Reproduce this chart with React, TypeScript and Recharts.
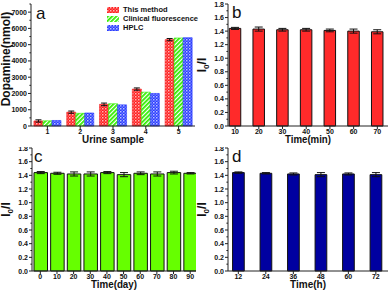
import React from "react";
import {
  Bar,
  BarChart,
  ErrorBar,
  Legend,
  ReferenceArea,
  XAxis,
  YAxis,
} from "recharts";

// panel a: dopamine in urine samples
const samples = ["1", "2", "3", "4", "5"];
const thisMethod = [310, 850, 1330, 2270, 5310];
const thisMethodErr = [70, 70, 80, 70, 70];
const clinical = [320, 780, 1370, 2080, 5410];
const hplc = [340, 800, 1300, 2000, 5430];
const dopamineTicks = [0, 1000, 2000, 3000, 4000, 5000, 6000, 7000];
const dopamineMinor = [0, 500, 1000, 1500, 2000, 2500, 3000, 3500, 4000, 4500, 5000, 5500, 6000, 6500, 7000, 7500];
const seriesNames = ["This method", "Clinical fluorescence", "HPLC"];

// panel b: stability over minutes
const timeMin = [10, 20, 30, 40, 50, 60, 70];
const ratioMin = [1.44, 1.43, 1.42, 1.42, 1.41, 1.4, 1.39];
const errMin = [0.015, 0.03, 0.02, 0.02, 0.02, 0.03, 0.03];

// panel c: stability over days
const timeDay = [0, 10, 20, 30, 40, 50, 60, 70, 80, 90];
const ratioDay = [1.44, 1.43, 1.42, 1.42, 1.44, 1.41, 1.43, 1.42, 1.44, 1.43];
const errDay = [0.015, 0.015, 0.03, 0.03, 0.015, 0.03, 0.02, 0.03, 0.02, 0.01];

// panel d: stability over hours
const timeHour = [12, 24, 36, 48, 60, 72];
const ratioHour = [1.44, 1.43, 1.42, 1.41, 1.42, 1.41];
const errHour = [0.01, 0.01, 0.015, 0.03, 0.015, 0.03];

const ratioTicks = [0, 0.2, 0.4, 0.6, 0.8, 1.0, 1.2, 1.4, 1.6, 1.8];
const ratioMinor = [0, 0.1, 0.2, 0.3, 0.4, 0.5, 0.6, 0.7, 0.8, 0.9, 1.0, 1.1, 1.2, 1.3, 1.4, 1.5, 1.6, 1.7, 1.8];

const font = "'Liberation Sans', Arial, sans-serif";
const axisColor = "#222";
const tickStyle = { fontSize: 7, fontWeight: "bold", fill: "#111", fontFamily: font };
const patternFills = ["url(#pRed)", "url(#pGreen)", "url(#pBlue)"];

const rowsA = samples.map((sample, i) => ({
  sample,
  method: thisMethod[i],
  methodErr: thisMethodErr[i],
  clinical: clinical[i],
  hplc: hplc[i],
}));
const rowsB = timeMin.map((time, i) => ({ time, ratio: ratioMin[i], err: errMin[i] }));
const rowsC = timeDay.map((time, i) => ({ time, ratio: ratioDay[i], err: errDay[i] }));
const rowsD = timeHour.map((time, i) => ({ time, ratio: ratioHour[i], err: errHour[i] }));

// y tick with major/minor marks; x is the label anchor, axis sits 4px to the right
function YTick({ x, y, payload, major, fmt }: any) {
  const axisX = x + 4;
  const isMajor = major.includes(payload.value);
  return (
    <g>
      <line x1={axisX} x2={axisX - (isMajor ? 3 : 1.6)} y1={y} y2={y} stroke={axisColor} strokeWidth={1} />
      {isMajor && (
        <text x={x} y={y} dy="0.36em" textAnchor="end" {...tickStyle}>
          {fmt ? fmt(payload.value) : payload.value}
        </text>
      )}
    </g>
  );
}

function XTitle({ viewBox, text, length }: any) {
  const { x, y, width } = viewBox;
  return (
    <text
      x={x + width / 2}
      y={y + 17}
      textAnchor="middle"
      fontSize={11.5}
      fontWeight="bold"
      fontFamily={font}
      fill="#111"
      textLength={length}
      lengthAdjust="spacingAndGlyphs"
    >
      {text}
    </text>
  );
}

function YTitle({ viewBox, text }: any) {
  const { x, y, height } = viewBox;
  const cx = x + 10;
  const cy = y + height / 2 - 6;
  return (
    <text
      x={cx}
      y={cy}
      transform={`rotate(-90 ${cx} ${cy})`}
      textAnchor="middle"
      fontSize={12}
      fontWeight="bold"
      fontFamily={font}
      fill="#111"
    >
      {text}
    </text>
  );
}

function RatioTitle({ viewBox }: any) {
  const { x, y, height } = viewBox;
  const cx = x + 10;
  const cy = y + height / 2;
  return (
    <text
      x={cx}
      y={cy}
      transform={`rotate(-90 ${cx} ${cy})`}
      textAnchor="middle"
      fontSize={12}
      fontWeight="bold"
      fontFamily={font}
      fill="#111"
    >
      <tspan>I</tspan>
      <tspan dy={3} fontSize={8}>0</tspan>
      <tspan dy={-3}>/I</tspan>
    </text>
  );
}

function PanelLetter({ children, left, top }: any) {
  return (
    <span
      style={{
        position: "absolute",
        left,
        top,
        fontFamily: font,
        fontSize: 17,
        lineHeight: "17px",
        color: "#111",
      }}
    >
      {children}
    </span>
  );
}

function LegendA() {
  return (
    <div
      style={{
        fontFamily: font,
        fontWeight: "bold",
        fontSize: 7.5,
        lineHeight: "9px",
        color: "#111",
        whiteSpace: "nowrap",
      }}
    >
      {seriesNames.map((name, i) => (
        <div key={name} style={{ display: "flex", alignItems: "center", height: 9 }}>
          <svg width={12} height={6} style={{ marginRight: 4 }}>
            <rect width={12} height={6} fill={patternFills[i]} />
          </svg>
          <span>{name}</span>
        </div>
      ))}
    </div>
  );
}

function Patterns() {
  return (
    <svg width={0} height={0} style={{ position: "absolute" }}>
      <defs>
        <pattern id="pRed" width={3} height={3} patternUnits="userSpaceOnUse">
          <rect width={3} height={3} fill="#ff1c1c" />
          <rect width={1.5} height={1.5} fill="#ffb4b4" />
          <rect x={1.5} y={1.5} width={1.5} height={1.5} fill="#ff5a5a" />
        </pattern>
        <pattern
          id="pGreen"
          width={3}
          height={3}
          patternUnits="userSpaceOnUse"
          patternTransform="rotate(45)"
        >
          <rect width={3} height={3} fill="#ffffff" />
          <rect width={1.8} height={3} fill="#33ee00" />
        </pattern>
        <pattern id="pBlue" width={3} height={3} patternUnits="userSpaceOnUse">
          <rect width={3} height={3} fill="#2a3cff" />
          <rect width={1.5} height={1.5} fill="#b8c0ff" />
          <rect x={1.5} y={1.5} width={1.5} height={1.5} fill="#6a78ff" />
        </pattern>
      </defs>
    </svg>
  );
}

function RatioPanel({ rows, ticks, domain, barSize, fill, xTitle, titleLength, margin }: any) {
  return (
    <BarChart width={196} height={147} data={rows} margin={margin}>
      <XAxis
        dataKey="time"
        type="number"
        domain={domain}
        ticks={ticks}
        allowDataOverflow
        height={22}
        interval={0}
        tick={tickStyle}
        tickSize={3}
        tickMargin={0}
        axisLine={{ stroke: axisColor }}
        tickLine={{ stroke: axisColor }}
        label={(props: any) => <XTitle {...props} text={xTitle} length={titleLength} />}
      />
      <YAxis
        width={32}
        domain={[0, 1.8]}
        ticks={ratioMinor}
        interval={0}
        tick={<YTick major={ratioTicks} fmt={(v: number) => v.toFixed(1)} />}
        tickSize={3}
        tickMargin={1}
        axisLine={{ stroke: axisColor }}
        tickLine={false}
        label={(props: any) => <RatioTitle {...props} />}
      />
      <Bar dataKey="ratio" fill={fill} stroke="#111" strokeWidth={1} barSize={barSize} isAnimationActive={false}>
        <ErrorBar dataKey="err" width={4} stroke="#111" strokeWidth={1} />
      </Bar>
      <ReferenceArea fill="none" stroke={axisColor} strokeWidth={1} ifOverflow="visible" />
    </BarChart>
  );
}

export default function App() {
  return (
    <div style={{ position: "absolute", left: 0, top: 0, width: 392, height: 294, background: "#fff" }}>
      <Patterns />

      <div style={{ position: "absolute", left: 0, top: 0 }}>
        <BarChart
          width={196}
          height={147}
          data={rowsA}
          margin={{ top: 4, right: 1, bottom: 0, left: 0 }}
          barCategoryGap="9%"
          barGap={0}
        >
          <XAxis
            dataKey="sample"
            height={21}
            tick={tickStyle}
            tickSize={3}
            tickMargin={0}
            axisLine={{ stroke: axisColor }}
            tickLine={{ stroke: axisColor }}
            label={(props: any) => <XTitle {...props} text="Urine sample" length={62} />}
          />
          <YAxis
            width={31}
            domain={[0, 7500]}
            ticks={dopamineMinor}
            interval={0}
            tick={<YTick major={dopamineTicks} />}
            tickSize={3}
            tickMargin={1}
            axisLine={{ stroke: axisColor }}
            tickLine={false}
            label={(props: any) => <YTitle {...props} text="Dopamine(nmol)" />}
          />
          <Legend
            layout="vertical"
            align="center"
            verticalAlign="middle"
            content={<LegendA />}
            wrapperStyle={{ left: 107, top: 5, width: 100, height: 27 }}
          />
          <Bar dataKey="method" name={seriesNames[0]} fill={patternFills[0]} stroke="#f01010" strokeWidth={0.6} isAnimationActive={false}>
            <ErrorBar dataKey="methodErr" width={3} stroke="#111" strokeWidth={1} />
          </Bar>
          <Bar dataKey="clinical" name={seriesNames[1]} fill={patternFills[1]} stroke="#33ee00" strokeWidth={0.6} isAnimationActive={false} />
          <Bar dataKey="hplc" name={seriesNames[2]} fill={patternFills[2]} stroke="#2030ff" strokeWidth={0.6} isAnimationActive={false} />
          <ReferenceArea fill="none" stroke={axisColor} strokeWidth={1} ifOverflow="visible" />
        </BarChart>
        <PanelLetter left={36} top={5}>a</PanelLetter>
      </div>

      <div style={{ position: "absolute", left: 196, top: 0 }}>
        <RatioPanel
          rows={rowsB}
          ticks={timeMin}
          domain={[7, 74.5]}
          barSize={11.5}
          fill="#ff2a2a"
          xTitle="Time(min)"
          titleLength={46}
          margin={{ top: 4, right: 4, bottom: -1, left: 0 }}
        />
        <PanelLetter left={36} top={4}>b</PanelLetter>
      </div>

      <div style={{ position: "absolute", left: 0, top: 147 }}>
        <RatioPanel
          rows={rowsC}
          ticks={timeDay}
          domain={[-5, 93.5]}
          barSize={13.5}
          fill="#66ff00"
          xTitle="Time(day)"
          titleLength={46}
          margin={{ top: 1, right: 0, bottom: 1, left: 0 }}
        />
        <PanelLetter left={34} top={1}>c</PanelLetter>
      </div>

      <div style={{ position: "absolute", left: 196, top: 147 }}>
        <RatioPanel
          rows={rowsD}
          ticks={timeHour}
          domain={[7.5, 77.3]}
          barSize={11.7}
          fill="#0000a0"
          xTitle="Time(h)"
          titleLength={36}
          margin={{ top: 1, right: 4, bottom: 1, left: 0 }}
        />
        <PanelLetter left={36} top={1}>d</PanelLetter>
      </div>
    </div>
  );
}
